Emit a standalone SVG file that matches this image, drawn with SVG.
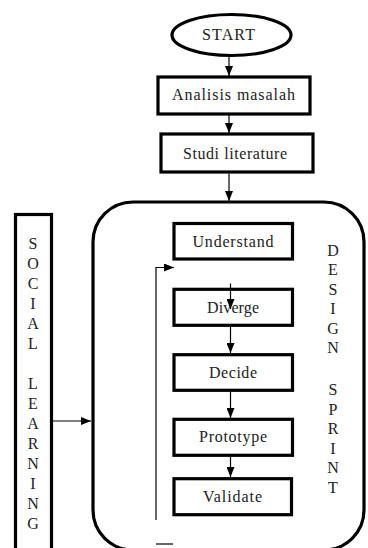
<svg xmlns="http://www.w3.org/2000/svg" width="368" height="548" viewBox="0 0 368 548">
<defs>
<marker id="ah" markerUnits="userSpaceOnUse" markerWidth="10" markerHeight="8" refX="10" refY="4" orient="auto">
<path d="M0,0 L10,4 L0,8 z" fill="#000"/>
</marker>
<style>
.box{fill:#fff;stroke:#000;stroke-width:3.2}
.big{fill:none;stroke:#000;stroke-width:3.2}
.lbl{font-size:16px;fill:#222;text-anchor:middle}
.col{font-size:16px;fill:#222;text-anchor:middle}
.con{fill:none;stroke:#000;stroke-width:1.2}
</style>
</defs>
<rect width="368" height="548" fill="#fff"/>
<g font-family="Liberation Serif, Times New Roman, serif">
<g id="design-sprint">
<rect class="big" x="93" y="202" width="271" height="348" rx="40" ry="40"/>
<text class="col"><tspan x="333" y="255.5">D</tspan><tspan x="333" y="275">E</tspan><tspan x="333" y="294.5">S</tspan><tspan x="333" y="314">I</tspan><tspan x="333" y="333.5">G</tspan><tspan x="333" y="353">N</tspan><tspan x="333" y="395">S</tspan><tspan x="333" y="414.5">P</tspan><tspan x="333" y="434">R</tspan><tspan x="333" y="453.5">I</tspan><tspan x="333" y="473">N</tspan><tspan x="333" y="492.5">T</tspan></text>
</g>
<g id="social-learning">
<rect class="box" x="15.5" y="214.5" width="36" height="345"/>
<text class="col"><tspan x="33" y="248.5">S</tspan><tspan x="33" y="268.5">O</tspan><tspan x="33" y="288.5">C</tspan><tspan x="33" y="308.5">I</tspan><tspan x="33" y="328.5">A</tspan><tspan x="33" y="348.5">L</tspan><tspan x="33" y="388.5">L</tspan><tspan x="33" y="408.5">E</tspan><tspan x="33" y="428.5">A</tspan><tspan x="33" y="448.5">R</tspan><tspan x="33" y="468.5">N</tspan><tspan x="33" y="488.5">I</tspan><tspan x="33" y="508.5">N</tspan><tspan x="33" y="528.5">G</tspan></text>
</g>
<g id="start">
<ellipse class="box" cx="231.5" cy="35" rx="59.5" ry="20.5"/>
<text class="lbl" x="228.5" y="40" textLength="53" lengthAdjust="spacing">START</text>
</g>
<g id="analisis">
<rect class="box" x="158" y="77" width="152" height="37"/>
<text class="lbl" x="233.5" y="100" textLength="123" lengthAdjust="spacing">Analisis masalah</text>
</g>
<g id="studi">
<rect class="box" x="161" y="134" width="152" height="38"/>
<text class="lbl" x="235" y="158.5" textLength="104" lengthAdjust="spacing">Studi literature</text>
</g>
<g id="understand">
<rect class="box" x="174" y="223.5" width="118.5" height="35.5"/>
<text class="lbl" x="233" y="247" textLength="81" lengthAdjust="spacing">Understand</text>
</g>
<g id="diverge">
<rect class="box" x="174" y="289.3" width="118.5" height="36"/>
<text class="lbl" x="233" y="312.5" textLength="52" lengthAdjust="spacing">Diverge</text>
</g>
<g id="decide">
<rect class="box" x="174" y="354.7" width="118.5" height="35.6"/>
<text class="lbl" x="233" y="377.5" textLength="48" lengthAdjust="spacing">Decide</text>
</g>
<g id="prototype">
<rect class="box" x="174" y="419.3" width="118.5" height="36"/>
<text class="lbl" x="233" y="442" textLength="68" lengthAdjust="spacing">Prototype</text>
</g>
<g id="validate">
<rect class="box" x="174" y="478.7" width="117.5" height="36"/>
<text class="lbl" x="232.5" y="502" textLength="59" lengthAdjust="spacing">Validate</text>
</g>
</g>
<g id="connectors">
<line class="con" x1="229" y1="56.5" x2="229" y2="76" marker-end="url(#ah)"/>
<line class="con" x1="229" y1="115" x2="229" y2="133" marker-end="url(#ah)"/>
<line class="con" x1="229" y1="173.5" x2="229" y2="201" marker-end="url(#ah)"/>
<line class="con" x1="53" y1="421" x2="91" y2="421" marker-end="url(#ah)"/>
<line class="con" x1="230.5" y1="283.5" x2="230.5" y2="309" marker-end="url(#ah)"/>
<line class="con" x1="230.5" y1="327" x2="230.5" y2="353" marker-end="url(#ah)"/>
<line class="con" x1="230.5" y1="392" x2="230.5" y2="418" marker-end="url(#ah)"/>
<line class="con" x1="230.5" y1="457" x2="230.5" y2="477" marker-end="url(#ah)"/>
<polyline class="con" points="156,520 156,267.5 174,267.5" marker-end="url(#ah)"/>
<line class="con" x1="156" y1="544" x2="173" y2="544"/>
</g>
</svg>
